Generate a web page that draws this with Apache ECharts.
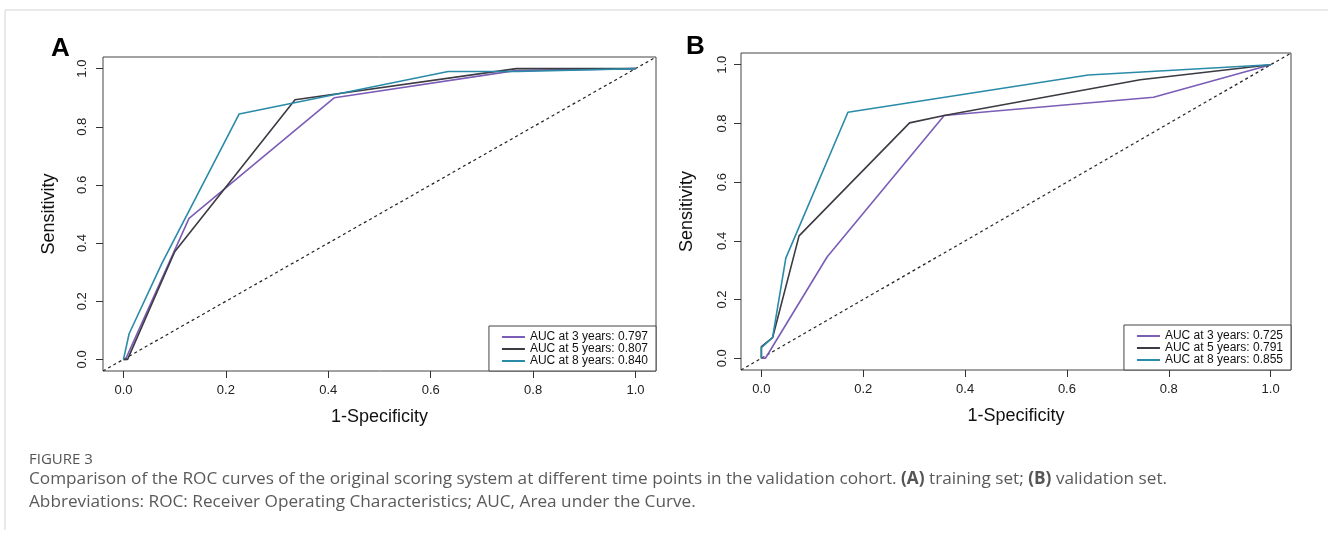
<!DOCTYPE html>
<html>
<head>
<meta charset="utf-8">
<script src="https://cdn.jsdelivr.net/npm/echarts@6/dist/echarts.min.js"></script>
<style>
  html, body { margin: 0; padding: 0; background: #fff; }
  #rocChart { width: 1328px; height: 534px; }
</style>
</head>
<body>
<div id="rocChart"></div>
<script>
// 曲线数据：[1-特异度, 灵敏度]
var trainYear3 = [[0, 0], [0.004, 0], [0.128, 0.485], [0.412, 0.9], [0.765, 0.993], [1, 1]];
var trainYear5 = [[0, 0], [0.008, 0], [0.1, 0.37], [0.335, 0.893], [0.767, 1], [1, 1]];
var trainYear8 = [[0, 0], [0.011, 0.088], [0.075, 0.33], [0.226, 0.844], [0.634, 0.99], [0.77, 0.99], [1, 1]];
var validYear3 = [[0, 0], [0.008, 0], [0.129, 0.345], [0.359, 0.827], [0.77, 0.889], [1, 1]];
var validYear5 = [[0, 0], [0, 0.04], [0.022, 0.07], [0.074, 0.417], [0.291, 0.802], [0.359, 0.827], [0.744, 0.949], [1, 1]];
var validYear8 = [[0, 0], [0, 0.036], [0.022, 0.07], [0.048, 0.341], [0.17, 0.838], [0.642, 0.965], [1, 1]];
var trainNames = ['AUC at 3 years: 0.797', 'AUC at 5 years: 0.807', 'AUC at 8 years: 0.840'];
var validNames = ['AUC at 3 years: 0.725', 'AUC at 5 years: 0.791', 'AUC at 8 years: 0.855'];
var tickValues = [0, 0.2, 0.4, 0.6, 0.8, 1.0];
var diagonal = [[-0.04, -0.04], [1.04, 1.04]];

var colors = ['#7b5cb6', '#3c3a42', '#2a8ba8'];
var font = 'Liberation Sans, Arial, sans-serif';

function makeX(idx) {
  return {
    type: 'value', gridIndex: idx, min: -0.04, max: 1.04,
    name: '1-Specificity', nameLocation: 'middle', nameGap: 37,
    nameTextStyle: { fontSize: 18, fontFamily: font, color: '#111' },
    axisLine: { show: false, onZero: false },
    splitLine: { show: false },
    axisTick: { show: true, length: 7, customValues: tickValues, lineStyle: { color: '#333' } },
    axisLabel: {
      customValues: tickValues, margin: 13, fontSize: 13, fontFamily: font, color: '#222',
      formatter: function (v) { return v.toFixed(1); }
    }
  };
}
function makeY(idx, margin, gap) {
  return {
    type: 'value', gridIndex: idx, min: -0.04, max: 1.04,
    name: 'Sensitivity', nameLocation: 'middle', nameGap: gap,
    nameTextStyle: { fontSize: 18, fontFamily: font, color: '#111' },
    axisLine: { show: false, onZero: false },
    splitLine: { show: false },
    axisTick: { show: true, length: 7, customValues: tickValues, lineStyle: { color: '#333' } },
    axisLabel: {
      customValues: tickValues, rotate: 90, margin: margin, fontSize: 13, fontFamily: font, color: '#222',
      formatter: function (v) { return v.toFixed(1); }
    }
  };
}
function curve(name, data, color, idx) {
  return {
    name: name, type: 'line', data: data, xAxisIndex: idx, yAxisIndex: idx,
    symbol: 'none', lineStyle: { color: color, width: 1.6 }, itemStyle: { color: color }
  };
}
function diag(idx) {
  return {
    type: 'line', data: diagonal, xAxisIndex: idx, yAxisIndex: idx, symbol: 'none',
    lineStyle: { color: '#222', width: 1.2, type: [3, 3] }, silent: true
  };
}
function makeLegend(names, right, bottom) {
  return {
    data: names, orient: 'vertical', right: right, bottom: bottom,
    selectedMode: false, icon: 'rect', itemWidth: 23, itemHeight: 2, itemGap: 0, itemTextGap: 12,
    padding: [5, 8, 4, 13], borderColor: '#444', borderWidth: 1, borderRadius: 0, backgroundColor: '#fff',
    textStyle: { fontSize: 12, lineHeight: 10, fontFamily: font, color: '#111' }
  };
}

var option = {
  animation: false,
  backgroundColor: '#fff',
  grid: [
    { left: 103, top: 57, right: 672, bottom: 163, show: true, borderColor: '#444', borderWidth: 1 },
    { left: 741, top: 53, right: 37, bottom: 164, show: true, borderColor: '#444', borderWidth: 1 }
  ],
  xAxis: [makeX(0), makeX(1)],
  yAxis: [makeY(0, 14, 45), makeY(1, 12, 45)],
  legend: [makeLegend(trainNames, 672, 163), makeLegend(validNames, 37, 164)],
  series: [
    diag(0), diag(1),
    curve(trainNames[0], trainYear3, colors[0], 0),
    curve(trainNames[1], trainYear5, colors[1], 0),
    curve(trainNames[2], trainYear8, colors[2], 0),
    curve(validNames[0], validYear3, colors[0], 1),
    curve(validNames[1], validYear5, colors[1], 1),
    curve(validNames[2], validYear8, colors[2], 1)
  ],
  graphic: [
    { type: 'line', shape: { x1: 5, y1: 10, x2: 1328, y2: 10 }, style: { stroke: '#d4d4d4', lineWidth: 1 } },
    { type: 'line', shape: { x1: 5, y1: 10, x2: 5, y2: 530 }, style: { stroke: '#d4d4d4', lineWidth: 1 } },
    { type: 'text', left: 51, top: 36, style: { text: 'A', fontSize: 26, fontWeight: 'bold', fontFamily: font, fill: '#000' } },
    { type: 'text', left: 686, top: 34, style: { text: 'B', fontSize: 26, fontWeight: 'bold', fontFamily: font, fill: '#000' } },
    { type: 'text', left: 29, top: 452, style: { text: 'FIGURE 3', fontSize: 15, fontFamily: 'Open Sans', fill: '#555' } },
    {
      type: 'text', left: 29, top: 468,
      style: {
        text: 'Comparison of the ROC curves of the original scoring system at different time points in the validation cohort. {b|(A)} training set; {b|(B)} validation set.\nAbbreviations: ROC: Receiver Operating Characteristics; AUC, Area under the Curve.',
        fontSize: 17.2, lineHeight: 23, fontFamily: 'Open Sans', fill: '#5a5a5a',
        rich: { b: { fontSize: 17.2, lineHeight: 23, fontFamily: 'Open Sans', fontWeight: 'bold', fill: '#555' } }
      }
    }
  ]
};

var chart = echarts.init(document.getElementById('rocChart'));
chart.setOption(option);
</script>
</body>
</html>
